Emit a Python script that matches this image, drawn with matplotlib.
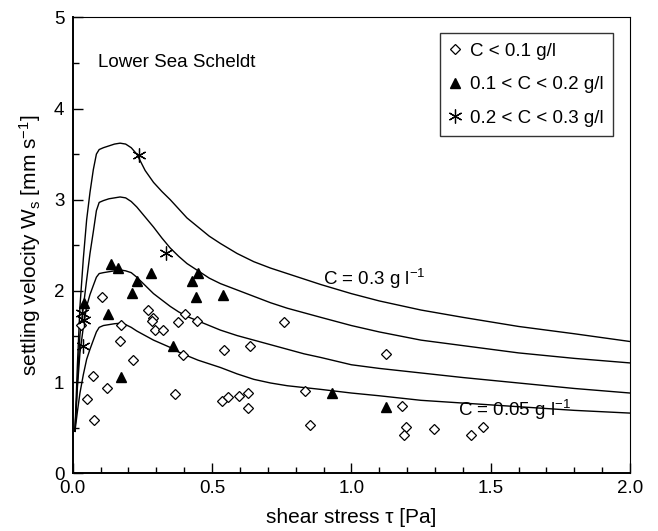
import matplotlib.pyplot as plt
from matplotlib.ticker import MultipleLocator

plt.rcParams['font.family'] = ['Liberation Sans', 'DejaVu Sans']
plt.rcParams['mathtext.fontset'] = 'custom'
plt.rcParams['mathtext.rm'] = 'Liberation Sans'
plt.rcParams['mathtext.it'] = 'Liberation Sans:italic'
plt.rcParams['mathtext.bf'] = 'Liberation Sans:bold'

# model curves
tau_curve = [0.008, 0.017, 0.026, 0.038, 0.05, 0.062, 0.074, 0.085, 0.095, 0.11,
             0.13, 0.15, 0.17, 0.19, 0.21, 0.23, 0.26, 0.29, 0.32, 0.35,
             0.38, 0.41, 0.45, 0.49, 0.53, 0.59, 0.65, 0.71, 0.77, 0.83,
             0.89, 1.0, 1.1, 1.25, 1.4, 1.6, 1.8, 2.0]
ws_c030 = [0.46, 1.20, 1.83, 2.35, 2.78, 3.08, 3.33, 3.50, 3.55, 3.57,
           3.59, 3.61, 3.62, 3.61, 3.57, 3.50, 3.32, 3.19, 3.09, 3.00,
           2.90, 2.80, 2.70, 2.60, 2.52, 2.41, 2.32, 2.25, 2.19, 2.13,
           2.07, 1.97, 1.89, 1.79, 1.71, 1.61, 1.53, 1.445]
ws_c020 = [0.46, 1.00, 1.52, 1.82, 2.12, 2.41, 2.65, 2.88, 2.97, 2.99,
           3.01, 3.02, 3.03, 3.02, 2.98, 2.92, 2.81, 2.70, 2.58, 2.47,
           2.38, 2.30, 2.22, 2.14, 2.08, 2.01, 1.94, 1.87, 1.81, 1.76,
           1.71, 1.62, 1.55, 1.46, 1.40, 1.32, 1.26, 1.21]
ws_c010 = [0.46, 0.95, 1.32, 1.60, 1.83, 1.96, 2.06, 2.15, 2.19, 2.20,
           2.21, 2.22, 2.23, 2.22, 2.20, 2.15, 2.06, 1.97, 1.90, 1.83,
           1.77, 1.72, 1.67, 1.62, 1.57, 1.51, 1.46, 1.41, 1.36, 1.31,
           1.27, 1.19, 1.15, 1.10, 1.05, 0.99, 0.93, 0.88]
ws_c005 = [0.46, 0.68, 0.88, 1.08, 1.25, 1.36, 1.46, 1.55, 1.60, 1.62,
           1.63, 1.64, 1.645, 1.63, 1.60, 1.56, 1.51, 1.46, 1.42, 1.38,
           1.33, 1.29, 1.24, 1.20, 1.16, 1.09, 1.03, 0.99, 0.96, 0.94,
           0.92, 0.88, 0.85, 0.80, 0.77, 0.73, 0.69, 0.66]

# measurements
tau_low = [0.105, 0.029, 0.173, 0.171, 0.215, 0.074, 0.123, 0.052, 0.075, 0.271,
           0.287, 0.283, 0.294, 0.325, 0.377, 0.403, 0.446, 0.396, 0.366, 0.759,
           0.543, 0.637, 0.536, 0.557, 0.597, 0.630, 0.629, 0.835, 0.853, 1.123,
           1.183, 1.196, 1.190, 1.296, 1.428, 1.471]
ws_low = [1.93, 1.63, 1.63, 1.45, 1.24, 1.07, 0.93, 0.81, 0.58, 1.79,
          1.70, 1.67, 1.57, 1.57, 1.66, 1.75, 1.67, 1.30, 0.87, 1.66,
          1.35, 1.40, 0.79, 0.84, 0.85, 0.88, 0.72, 0.90, 0.53, 1.31,
          0.74, 0.51, 0.42, 0.49, 0.42, 0.51]

tau_mid = [0.136, 0.164, 0.280, 0.232, 0.212, 0.128, 0.041, 0.172, 0.359, 0.451,
           0.429, 0.443, 0.541, 0.929, 1.123]
ws_mid = [2.29, 2.25, 2.20, 2.11, 1.98, 1.75, 1.87, 1.06, 1.40, 2.20,
          2.11, 1.93, 1.96, 0.88, 0.73]

tau_high = [0.237, 0.335, 0.035, 0.040, 0.036]
ws_high = [3.49, 2.42, 1.76, 1.68, 1.40]

fig = plt.figure(figsize=(6.58, 5.31), dpi=100)
ax = fig.add_axes([0.1105, 0.1087, 0.847, 0.8587])

for ws in (ws_c030, ws_c020, ws_c010, ws_c005):
    ax.plot(tau_curve, ws, color='black', lw=1.0)

ax.plot(tau_low, ws_low, ls='none', marker='D', ms=5.5, mfc='white', mec='black',
        mew=0.9, label='C < 0.1 g/l')
ax.plot(tau_mid, ws_mid, ls='none', marker='^', ms=6.5, color='black',
        label='0.1 < C < 0.2 g/l')
ax.plot(tau_high, ws_high, ls='none', marker=(6, 2, 0), ms=10, color='black',
        mew=0.9, label='0.2 < C < 0.3 g/l')

ax.text(0.09, 4.50, 'Lower Sea Scheldt', fontsize=13.5, va='center')
ax.text(0.899, 2.13, 'C = 0.3 g l$^{-1}$', fontsize=13.5, va='center')
ax.text(1.384, 0.69, 'C = 0.05 g l$^{-1}$', fontsize=13.5, va='center')

ax.set_xlim(0, 2.0)
ax.set_ylim(0, 5)
ax.xaxis.set_major_locator(MultipleLocator(0.5))
ax.xaxis.set_minor_locator(MultipleLocator(0.1))
ax.yaxis.set_major_locator(MultipleLocator(1))
ax.yaxis.set_minor_locator(MultipleLocator(0.5))
ax.xaxis.set_major_formatter(plt.FormatStrFormatter('%.1f'))
ax.tick_params(which='both', direction='in', top=False, right=False, labelsize=13.5)
ax.tick_params(which='major', length=7, width=1)
ax.tick_params(which='minor', length=4, width=1)
ax.tick_params(axis='x', pad=5)
ax.tick_params(axis='y', pad=6)
for s in ('left', 'bottom'):
    ax.spines[s].set_linewidth(1.4)

ax.set_xlabel('shear stress τ [Pa]', fontsize=15, labelpad=8)
ax.set_ylabel('settling velocity W$_\\mathrm{s}$ [mm s$^\\mathrm{-1}$]', fontsize=15, labelpad=8)

ax.legend(loc='upper right', bbox_to_anchor=(0.969, 0.965), borderaxespad=0,
          frameon=True, fancybox=False, edgecolor='black', fontsize=13.5,
          handlelength=0.6, handletextpad=0.5, labelspacing=0.88, borderpad=0.5)

fig.savefig('out.png', dpi=100)
